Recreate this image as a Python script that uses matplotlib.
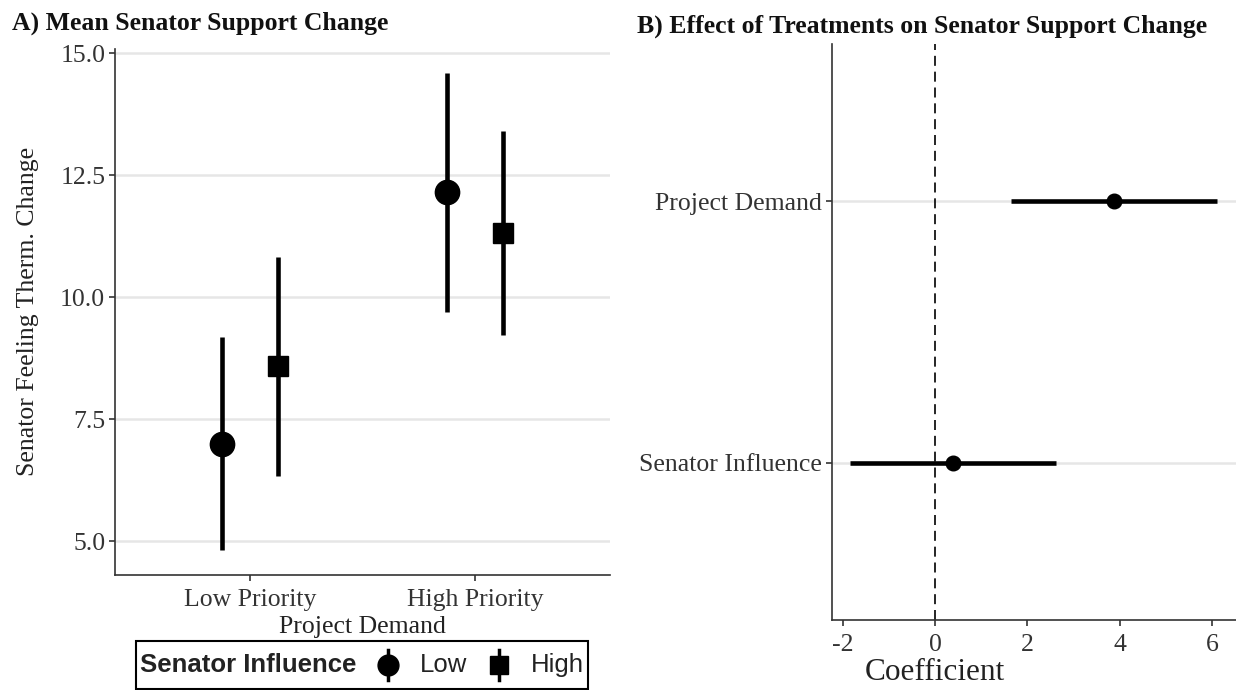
import numpy as np
import matplotlib
matplotlib.use("Agg")
import matplotlib.pyplot as plt
from matplotlib.lines import Line2D
from matplotlib.offsetbox import AnchoredOffsetbox, HPacker, TextArea, DrawingArea

# panel A data
demand_levels = ["Low Priority", "High Priority"]
influence_levels = ["Low", "High"]
mean_low_infl = [6.99, 12.15]
lower_low_infl = [4.82, 9.69]
upper_low_infl = [9.18, 14.59]
mean_high_infl = [8.59, 11.31]
lower_high_infl = [6.33, 9.22]
upper_high_infl = [10.82, 13.40]

# panel B data
terms = ["Senator Influence", "Project Demand"]
coef = [0.39, 3.88]
coef_lower = [-1.84, 1.65]
coef_upper = [2.62, 6.10]

W, H = 1236, 690
DPI = 100
serif = "Liberation Serif"
sans = "Liberation Sans"
tick_col = "#333333"
grid_col = "#E6E6E6"
fs = 18.5

plt.rcParams["axes.unicode_minus"] = False
fig = plt.figure(figsize=(W / DPI, H / DPI), dpi=DPI)


def px(x0, y0, x1, y1):
    return [x0 / W, 1 - y1 / H, (x1 - x0) / W, (y1 - y0) / H]


def style_axes(ax):
    for side in ["top", "right"]:
        ax.spines[side].set_visible(False)
    for side in ["left", "bottom"]:
        ax.spines[side].set_color(tick_col)
        ax.spines[side].set_linewidth(1.2)
    ax.tick_params(length=4, width=1.2, color=tick_col, labelcolor=tick_col,
                   labelsize=fs, pad=3)
    ax.tick_params(axis="x", pad=6)
    for lab in ax.get_xticklabels() + ax.get_yticklabels():
        lab.set_family(serif)


# ---- Panel A ----
axA = fig.add_axes(px(115, 48.5, 610, 575))
x = np.arange(len(demand_levels)) + 1
dodge = 0.125
lw = 3.3
axA.vlines(x - dodge, lower_low_infl, upper_low_infl, color="black", lw=lw, zorder=3)
axA.plot(x - dodge, mean_low_infl, "o", color="black", ms=17.5, zorder=4)
axA.vlines(x + dodge, lower_high_infl, upper_high_infl, color="black", lw=lw, zorder=3)
axA.plot(x + dodge, mean_high_infl, "s", color="black", ms=15, zorder=4)
axA.set_xlim(0.4, 2.6)
axA.set_ylim(4.31, 15.1)
axA.set_yticks([5.0, 7.5, 10.0, 12.5, 15.0])
axA.set_yticklabels(["5.0", "7.5", "10.0", "12.5", "15.0"])
axA.set_xticks(x)
axA.set_xticklabels(demand_levels)
axA.grid(axis="y", color=grid_col, lw=1.8, zorder=0)
axA.set_axisbelow(True)
style_axes(axA)
axA.set_xlabel("Project Demand", fontsize=fs, family=serif, color="#222222", labelpad=4)
axA.set_ylabel("Senator Feeling Therm. Change", fontsize=fs, family=serif,
               color="#222222", labelpad=15)

# ---- Panel B ----
axB = fig.add_axes(px(832, 44, 1236, 620))
y = np.arange(len(terms)) + 1
axB.hlines(y, coef_lower, coef_upper, color="black", lw=lw, zorder=3)
axB.plot(coef, y, "o", color="black", ms=10.5, zorder=4)
axB.axvline(0, color="black", lw=1.2, dashes=(6, 3.5), zorder=2)
axB.set_ylim(0.4, 2.6)
axB.set_xlim(-2.23, 6.52)
axB.set_yticks(y)
axB.set_yticklabels(terms)
axB.set_xticks([-2, 0, 2, 4, 6])
axB.grid(axis="y", color=grid_col, lw=1.8, zorder=0)
axB.set_axisbelow(True)
style_axes(axB)
fig.text(935 / W, 1 - 673 / H, "Coefficient", fontsize=22.5, family=serif,
         color="#222222", ha="center", va="center")

# ---- Titles ----
fig.text(12 / W, 1 - 23 / H, "A) Mean Senator Support Change", fontsize=fs,
         family=serif, weight="bold", ha="left", va="center", color="#111111")
fig.text(637 / W, 1 - 26 / H, "B) Effect of Treatments on Senator Support Change",
         fontsize=fs, family=serif, weight="bold", ha="left", va="center",
         color="#111111")


# ---- Legend (title on the left, as in ggplot) ----
def key(marker, ms):
    da = DrawingArea(22, 30, 0, 0)
    da.add_artist(Line2D([11, 11], [4, 26], color="black", lw=2.5))
    da.add_artist(Line2D([11], [15], marker=marker, color="black", ms=ms, lw=0))
    return da


items = [TextArea("Senator Influence",
                  textprops=dict(family=sans, weight="bold", size=fs, color="#222222"))]
for mk, ms, lab in [("o", 15, influence_levels[0]), ("s", 13, influence_levels[1])]:
    items.append(key(mk, ms))
    items.append(TextArea(lab, textprops=dict(family=sans, size=fs, color="#222222")))
box = HPacker(children=items, align="center", pad=0, sep=12)
anch = AnchoredOffsetbox(loc="center", child=box, pad=0.25, borderpad=0,
                         frameon=True, bbox_to_anchor=(362 / W, 1 - 665 / H),
                         bbox_transform=fig.transFigure)
anch.patch.set_edgecolor("black")
anch.patch.set_linewidth(1.5)
anch.patch.set_boxstyle("square", pad=0)
fig.add_artist(anch)

fig.savefig("out.png", dpi=DPI)
